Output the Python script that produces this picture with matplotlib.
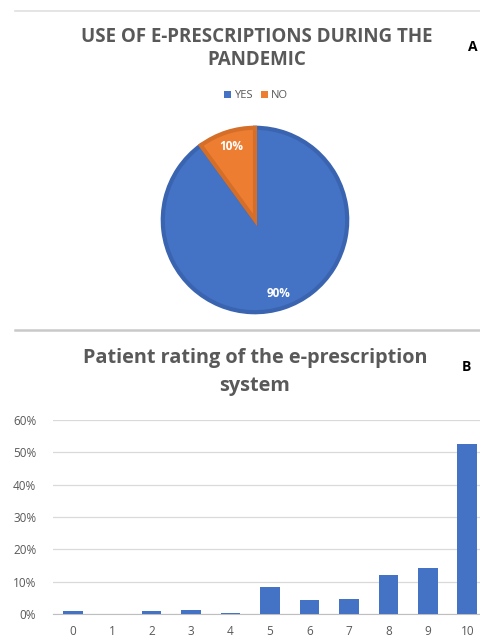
import matplotlib.pyplot as plt
from matplotlib.patches import Patch
from matplotlib.lines import Line2D
from matplotlib.ticker import PercentFormatter

W, H = 481, 644

# panel A data
pie_labels = ['YES', 'NO']
pie_values = [90, 10]
pie_colors = ['#4472C4', '#ED7D31']
pie_edges = ['#3A64B0', '#D46E28']

# panel B data
ratings = ['0', '1', '2', '3', '4', '5', '6', '7', '8', '9', '10']
shares = [0.008, 0.0, 0.008, 0.013, 0.004, 0.083, 0.043, 0.047, 0.120, 0.141, 0.525]

GRAY = '#595959'
plt.rcParams['font.family'] = ['Open Sans', 'DejaVu Sans']


def fx(x):
    return x / W


def fy(y):
    return 1 - y / H


fig = plt.figure(figsize=(W / 100, H / 100), dpi=100)

# separator lines
fig.add_artist(Line2D([fx(15), fx(481)], [fy(11), fy(11)], color='#E0E0E0', lw=1.2))
fig.add_artist(Line2D([fx(15), fx(481)], [fy(330), fy(330)], color='#C9C9C9', lw=1.8))

# ---- panel A: pie
fig.text(fx(257), fy(37), 'USE OF E-PRESCRIPTIONS DURING THE', ha='center', va='center',
         fontsize=13.5, fontweight='bold', color=GRAY)
fig.text(fx(257), fy(60), 'PANDEMIC', ha='center', va='center',
         fontsize=13.5, fontweight='bold', color=GRAY)
fig.text(fx(473), fy(47), 'A', ha='center', va='center', fontsize=10, fontweight='bold', color='black')

ax1 = fig.add_axes([fx(160), fy(315), 190 / W, 190 / H])
wedges, _, autotexts = ax1.pie(pie_values, colors=pie_colors, startangle=90, counterclock=False,
                               autopct='%d%%', pctdistance=0.84,
                               wedgeprops=dict(linewidth=3))
for w, ec in zip(wedges, pie_edges):
    w.set_edgecolor(ec)
for t in autotexts:
    t.set_color('white')
    t.set_fontsize(8.5)
    t.set_fontweight('bold')
ax1.set_xlim(-1.03, 1.03)
ax1.set_ylim(-1.03, 1.03)
ax1.set_aspect('equal')

handles = [Patch(facecolor=c, edgecolor='none') for c in pie_colors]
fig.legend(handles, pie_labels, loc='center', bbox_to_anchor=(fx(256), fy(96)), ncol=2,
           frameon=False, fontsize=8, labelcolor=GRAY, handlelength=0.6, handleheight=0.6,
           handletextpad=0.25, columnspacing=0.8)

# ---- panel B: bars
fig.text(fx(255), fy(358), 'Patient rating of the e-prescription', ha='center', va='center',
         fontsize=14.3, fontweight='bold', color=GRAY)
fig.text(fx(255), fy(386), 'system', ha='center', va='center',
         fontsize=14.3, fontweight='bold', color=GRAY)
fig.text(fx(466), fy(367), 'B', ha='center', va='center', fontsize=10, fontweight='bold', color='black')

ax2 = fig.add_axes([fx(53), fy(614), (487 - 53) / W, (614 - 420) / H])
ax2.bar(ratings, shares, width=0.5, color='#4472C4', zorder=3)
ax2.set_ylim(0, 0.6)
ax2.set_xlim(-0.5, 10.5)
ax2.set_yticks([0, 0.1, 0.2, 0.3, 0.4, 0.5, 0.6])
ax2.yaxis.set_major_formatter(PercentFormatter(1.0, decimals=0))
ax2.grid(axis='y', color='#D9D9D9', lw=0.9, zorder=0)
for s in ['top', 'right', 'left']:
    ax2.spines[s].set_visible(False)
ax2.spines['bottom'].set_color('#BFBFBF')
ax2.tick_params(length=0, colors=GRAY, labelsize=8.5)
ax2.tick_params(axis='x', pad=8)
ax2.tick_params(axis='y', pad=12)

fig.savefig('out.png', dpi=100)
